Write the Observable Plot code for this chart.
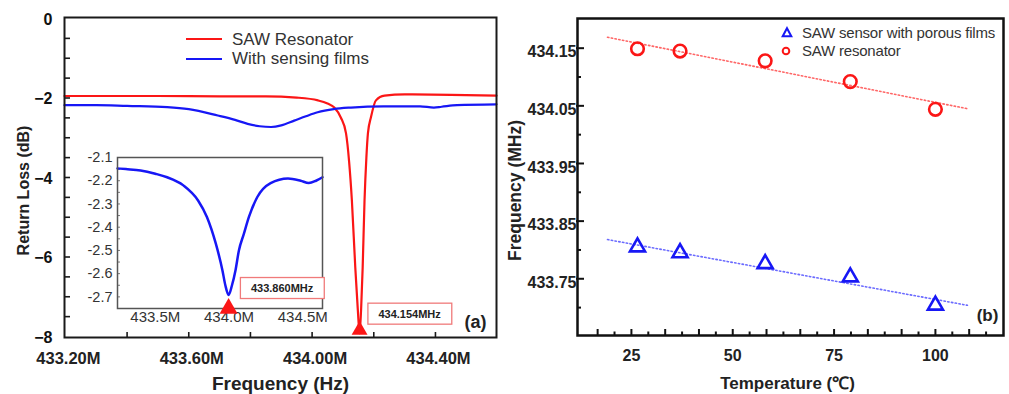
<!DOCTYPE html>
<html><head><meta charset="utf-8">
<script src="https://cdn.jsdelivr.net/npm/d3@7"></script>
<script src="https://cdn.jsdelivr.net/npm/@observablehq/plot@0.6"></script>
<style>
body{margin:0;background:#fff;}
#wrap{position:relative;width:1009px;height:394px;overflow:hidden;font-family:"Liberation Sans",Arial,sans-serif;background:#fff;}
.abs{position:absolute;}
.leg{position:absolute;white-space:nowrap;color:#333;}
</style></head><body><div id="wrap"></div>
<script>
// ---------- DATA ----------
// Panel (a): return loss spectra
const redFreq = [433.197,433.3,433.5,433.7,433.85,433.95,434.019,434.05,434.072,434.093,434.110,434.12,434.129,434.140,434.148,434.154,434.159,434.164,434.170,434.176,434.181,434.191,434.207,434.235,434.3,434.45,434.598];
const redLoss = [-1.95,-1.95,-1.95,-1.96,-1.96,-1.99,-2.06,-2.14,-2.24,-2.49,-2.89,-3.6,-4.58,-6.26,-7.3,-7.92,-7.3,-6.26,-4.58,-3.5,-2.89,-2.48,-2.06,-1.94,-1.91,-1.92,-1.94];
const blueFreq = [433.197,433.3,433.4,433.53,433.6,433.694,433.75,433.791,433.83,433.867,433.9,433.942,433.98,434.018,434.07,434.126,434.233,434.35,434.395,434.42,434.47,434.598];
const blueLoss = [-2.18,-2.18,-2.2,-2.23,-2.28,-2.44,-2.55,-2.65,-2.71,-2.73,-2.69,-2.57,-2.46,-2.36,-2.28,-2.24,-2.21,-2.21,-2.24,-2.22,-2.18,-2.16];
const mainPeak = [{f: 434.154, v: -7.84, label: "434.154MHz"}];
// Inset (zoom of the sensing-film curve, in the inset's own axis units)
const insetFreq = [433.2435,433.3,433.4,433.5,433.58,433.69,433.79,433.85,433.91,433.955,433.975,433.997,434.02,434.044,434.067,434.1,434.135,434.192,434.282,434.4,434.486,434.541,434.59,434.634];
const insetLoss = [-2.147,-2.15,-2.156,-2.17,-2.185,-2.22,-2.285,-2.356,-2.47,-2.585,-2.65,-2.692,-2.65,-2.585,-2.5,-2.43,-2.356,-2.27,-2.21,-2.19,-2.2,-2.21,-2.2,-2.185];
const insetPeak = [{f: 433.997, v: -2.75, label: "433.860MHz"}];
// Tick labels
const aYLabels = [0,-2,-4,-6,-8];
const aXLabels = [433.2,433.6,434.0,434.4];
const aXTicks = [433.4,433.6,433.8,434.0,434.2,434.4];
const insetYLabels = [-2.1,-2.2,-2.3,-2.4,-2.5,-2.6,-2.7];
const insetXLabels = [433.5,434.0,434.5];

// Panel (b): frequency vs temperature
const temps = [26.5,37,58,79,100];
const resonatorFreq = [434.149,434.145,434.128,434.092,434.044];
const sensorFreq = [433.805,433.795,433.776,433.753,433.704];
const fitTemps = [19.1,107.9];
const resonatorFit = [434.169,434.045];
const sensorFit = [433.818,433.704];
const bXLabels = [25,50,75,100];
const bYLabels = [434.15,434.05,433.95,433.85,433.75];
const bYMinor = [434.10,434.00,433.90,433.80,433.70];
const bXMajor = [16.667,25,33.333,41.667,50,58.333,66.667,75,83.333,91.667,100,108.333];
const bXMinor = [20.833,29.167,37.5,45.833,54.167,62.5,70.833,79.167,87.5,95.833,104.167,112.5];

// ---------- STYLE ----------
const FF = '"Liberation Sans", Arial, sans-serif';
const RED = "#fb1616", BLUE = "#1717f5";
const baseStyle = {background: "transparent", fontFamily: FF, overflow: "visible"};
const wrap = document.getElementById("wrap");

function place(svg, left, top) {
  svg.style.position = "absolute";
  svg.style.left = left + "px";
  svg.style.top = top + "px";
  wrap.appendChild(svg);
}
function boxify(svg, padX, padY) {
  Array.from(svg.querySelectorAll("text")).filter(t => /MHz$/.test(t.textContent.trim())).forEach(t => {
    const b = t.getBBox();
    const r = document.createElementNS("http://www.w3.org/2000/svg", "rect");
    r.setAttribute("x", b.x - padX);
    r.setAttribute("y", b.y - padY);
    r.setAttribute("width", b.width + 2 * padX);
    r.setAttribute("height", b.height + 2 * padY);
    r.setAttribute("fill", "white");
    r.setAttribute("stroke", "#f07a7a");
    r.setAttribute("stroke-width", "1.3");
    const tr = t.getAttribute("transform");
    if (tr) r.setAttribute("transform", tr);
    t.parentNode.insertBefore(r, t);
  });
}

const redData = redFreq.map((f, i) => ({f, v: redLoss[i]}));
const blueData = blueFreq.map((f, i) => ({f, v: blueLoss[i]}));
const insetData = insetFreq.map((f, i) => ({f, v: insetLoss[i]}));

// ---------- PANEL (a) ----------
const left = Plot.plot({
  width: 505, height: 394,
  marginLeft: 64, marginRight: 9, marginTop: 17, marginBottom: 57,
  style: baseStyle,
  x: {domain: [433.197, 434.598], label: null},
  y: {domain: [-8.025, 0.025], label: null},
  marks: [
    Plot.axisY(d3.range(-0.5, -7.6, -0.5), {tickSize: 6, dx: 6, fill: "none", stroke: "#1a1a1a", strokeWidth: 1.6, label: null}),
    Plot.axisY(aYLabels, {tickSize: 0, tickPadding: 12, dy: 1, fontSize: 16, fontWeight: "bold", fill: "#111", label: null}),
    Plot.axisX(aXTicks, {tickSize: 5, dy: -5, fill: "none", stroke: "#1a1a1a", strokeWidth: 1.6, label: null}),
    Plot.axisX(aXLabels, {tickSize: 0, tickPadding: 15, dx: 3, tickFormat: d => d.toFixed(2) + "M", fontSize: 16.5, fontWeight: "bold", fill: "#222", label: null}),
    Plot.line(redData, {x: "f", y: "v", stroke: RED, strokeWidth: 2.2, curve: "monotone-x"}),
    Plot.line(blueData, {x: "f", y: "v", stroke: BLUE, strokeWidth: 2.2, curve: "monotone-x"}),
    Plot.frame({stroke: "#1a1a1a", strokeWidth: 2}),
    Plot.dot(mainPeak, {x: "f", y: "v", symbol: "triangle", r: 5.9, fill: RED, stroke: "none"}),
    Plot.text(mainPeak, {x: "f", y: "v", text: "label", dx: 50, dy: -16, fontSize: 11, fontWeight: "bold", fill: "#222", textAnchor: "middle", lineAnchor: "middle"}),
    Plot.text(["(a)"], {frameAnchor: "bottom-right", dx: -21, dy: -15, textAnchor: "middle", lineAnchor: "middle", fontSize: 18, fontWeight: "bold", fill: "#222"}),
    Plot.text(["Return Loss (dB)"], {frameAnchor: "left", rotate: -90, dx: -41, dy: 13, textAnchor: "middle", lineAnchor: "middle", fontSize: 16, fontWeight: "bold", fill: "#222"}),
    Plot.text(["Frequency (Hz)"], {frameAnchor: "bottom", dy: 46, textAnchor: "middle", lineAnchor: "middle", fontSize: 19, fontWeight: "bold", fill: "#222"})
  ]
});
place(left, 0, 0);
boxify(left, 10.5, 4.5);

// ---------- INSET ----------
const inset = Plot.plot({
  width: 270, height: 195,
  marginLeft: 57, marginRight: 8, marginTop: 17, marginBottom: 27,
  style: baseStyle,
  x: {domain: [433.2435, 434.634], label: null},
  y: {domain: [-2.75, -2.1], label: null},
  marks: [
    Plot.frame({fill: "white", stroke: "none"}),
    Plot.axisY(d3.range(-2.15, -2.74, -0.05), {tickSize: 3, dx: 3, fill: "none", stroke: "#777", strokeWidth: 1, label: null}),
    Plot.axisY(insetYLabels, {tickSize: 0, tickPadding: 5, tickFormat: d => d.toFixed(1), fontSize: 14.5, fill: "#333", label: null}),
    Plot.axisX(insetXLabels, {tickSize: 0, tickPadding: 3, tickFormat: d => d.toFixed(1) + "M", fontSize: 15, fill: "#333", label: null}),
    Plot.line(insetData, {x: "f", y: "v", stroke: BLUE, strokeWidth: 2.5, curve: "monotone-x"}),
    Plot.frame({stroke: "#555", strokeWidth: 1.5}),
    Plot.dot(insetPeak, {x: "f", y: "v", symbol: "triangle", r: 6.7, fill: RED, stroke: "none"}),
    Plot.text(insetPeak, {x: "f", y: "v", text: "label", dx: 53.5, dy: -20, fontSize: 11, fontWeight: "bold", fill: "#222", textAnchor: "middle", lineAnchor: "middle"})
  ]
});
place(inset, 60, 140);
boxify(inset, 10.5, 4.5);

// ---------- PANEL (b) ----------
const resPts = temps.map((t, i) => ({t, f: resonatorFreq[i]}));
const senPts = temps.map((t, i) => ({t, f: sensorFreq[i]}));
const resFitPts = fitTemps.map((t, i) => ({t, f: resonatorFit[i]}));
const senFitPts = fitTemps.map((t, i) => ({t, f: sensorFit[i]}));

const right = Plot.plot({
  width: 504, height: 394,
  marginLeft: 72, marginRight: 6, marginTop: 18, marginBottom: 59,
  style: baseStyle,
  x: {domain: [11.7, 116.8], label: null},
  y: {domain: [433.6516, 434.2015], label: null},
  marks: [
    Plot.axisY(bYLabels, {tickSize: 8, dx: 7, fill: "none", stroke: "#111", strokeWidth: 2, label: null}),
    Plot.axisY(bYMinor, {tickSize: 4, dx: 4, fill: "none", stroke: "#111", strokeWidth: 2, label: null}),
    Plot.axisY(bYLabels, {tickSize: 0, tickPadding: 1, dy: 4, tickFormat: d => d.toFixed(2), fontSize: 16, fontWeight: "bold", fill: "#222", label: null}),
    Plot.axisX(bXMajor, {tickSize: 6, dy: -6, fill: "none", stroke: "#111", strokeWidth: 2, label: null}),
    Plot.axisX(bXMinor, {tickSize: 3.5, dy: -3.5, fill: "none", stroke: "#111", strokeWidth: 2, label: null}),
    Plot.axisX(bXLabels, {tickSize: 0, tickPadding: 14, fontSize: 16, fontWeight: "bold", fill: "#222", label: null}),
    Plot.line(resFitPts, {x: "t", y: "f", stroke: "#f66", strokeWidth: 1.6, strokeDasharray: "1.4,2.4"}),
    Plot.line(senFitPts, {x: "t", y: "f", stroke: "#6b6bff", strokeWidth: 1.6, strokeDasharray: "1.4,2.4"}),
    Plot.dot(resPts, {x: "t", y: "f", r: 6.3, fill: "none", stroke: RED, strokeWidth: 2.6}),
    Plot.dot(senPts, {x: "t", y: "f", symbol: "triangle", r: 5.6, fill: "none", stroke: BLUE, strokeWidth: 2.6}),
    Plot.frame({stroke: "#111", strokeWidth: 2.5}),
    Plot.text(["(b)"], {frameAnchor: "bottom-right", dx: -16, dy: -20, textAnchor: "middle", lineAnchor: "middle", fontSize: 17, fontWeight: "bold", fill: "#222"}),
    Plot.text(["Frequency (MHz)"], {frameAnchor: "left", rotate: -90, dx: -62, dy: 13.5, textAnchor: "middle", lineAnchor: "middle", fontSize: 17.5, fontWeight: "bold", fill: "#222"}),
    Plot.text(["Temperature (\u2103)"], {frameAnchor: "bottom", dx: -3, dy: 48, textAnchor: "middle", lineAnchor: "middle", fontSize: 17, fontWeight: "bold", fill: "#222"})
  ]
});
place(right, 505, 0);

// ---------- LEGENDS ----------
function addHTML(html) { wrap.insertAdjacentHTML("beforeend", html); }
addHTML(`<div class="abs" style="left:186px;top:37.8px;width:36px;height:2.6px;background:${RED}"></div>
<div class="leg" style="left:232px;top:29.5px;font-size:17px;line-height:20px;">SAW Resonator</div>
<div class="abs" style="left:186px;top:57.8px;width:36px;height:2.6px;background:${BLUE}"></div>
<div class="leg" style="left:232px;top:49px;font-size:17px;line-height:20px;">With sensing films</div>
<svg class="abs" style="left:780px;top:26px" width="14" height="14"><path d="M7,2.2 L11.3,10.2 L2.7,10.2 Z" fill="none" stroke="${BLUE}" stroke-width="2"/></svg>
<svg class="abs" style="left:779px;top:44px" width="14" height="14"><circle cx="7" cy="7" r="3.3" fill="none" stroke="${RED}" stroke-width="2"/></svg>
<div class="leg" style="left:802px;top:24px;font-size:15px;line-height:18px;letter-spacing:-0.2px;">SAW sensor with porous films</div>
<div class="leg" style="left:802px;top:42px;font-size:15px;line-height:18px;letter-spacing:-0.2px;">SAW resonator</div>`);
</script>
</body></html>
